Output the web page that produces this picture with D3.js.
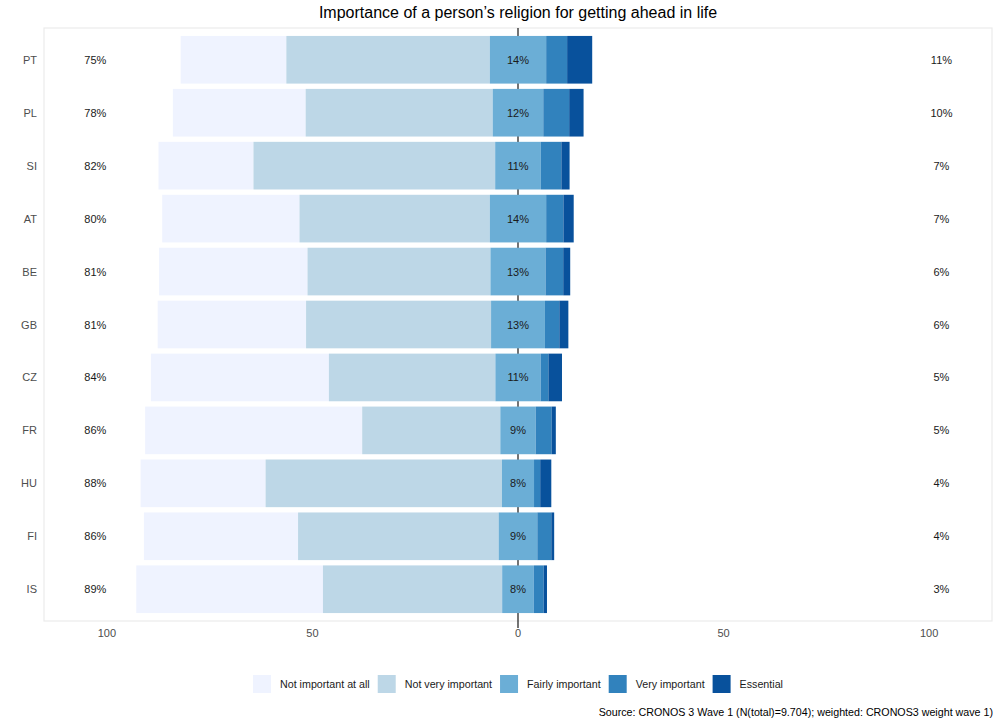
<!DOCTYPE html>
<html lang="en">
<head>
<meta charset="UTF-8">
<title>Importance of a person's religion</title>
<style>
    body { margin: 0; background: #fff; }
    svg { display: block; font-family: "Liberation Sans", Arial, sans-serif; }
</style>
</head>
<body>
<script src="https://d3js.org/d3.v7.min.js"></script>
<script>
    const width = 1000
    const height = 724

    // data (percent)
    const countries = ['PT', 'PL', 'SI', 'AT', 'BE', 'GB', 'CZ', 'FR', 'HU', 'FI', 'IS']
    const levels = ['Not important at all', 'Not very important', 'Fairly important', 'Very important', 'Essential']
    const notAtAll = [25.7, 32.3, 23.1, 33.4, 36.1, 36.1, 43.3, 52.8, 30.4, 37.5, 45.4]
    const notVery = [49.5, 45.5, 58.8, 46.3, 44.5, 45.0, 40.5, 33.6, 57.5, 48.8, 43.6]
    const fairly = [13.7, 12.3, 11.1, 13.7, 13.4, 13.1, 11.0, 8.6, 7.8, 9.4, 7.7]
    const very = [5.1, 6.3, 5.0, 4.2, 4.3, 3.5, 1.9, 3.9, 1.5, 3.4, 2.4]
    const essential = [6.1, 3.5, 2.0, 2.5, 1.7, 2.2, 3.3, 1.0, 2.7, 0.7, 0.8]
    const xTicks = [-100, -50, 0, 50, 100]

    const colors = ['#eff3ff', '#bdd7e7', '#6baed6', '#3182bd', '#08519c']

    const panel = { left: 44, right: 992, top: 28, bottom: 621 }

    const x = d3.scaleLinear().domain([-115.3, 115.3]).range([panel.left, panel.right])
    const y = d3.scaleBand().domain(countries)
        .range([panel.top, panel.bottom])
        .paddingInner(0.1)
        .paddingOuter(0.15)

    const svg = d3.select('body').append('svg')
        .attr('width', width)
        .attr('height', height)

    // panel border
    svg.append('rect')
        .attr('x', panel.left).attr('y', panel.top)
        .attr('width', panel.right - panel.left)
        .attr('height', panel.bottom - panel.top)
        .attr('fill', 'none')
        .attr('stroke', '#ebebeb')
        .attr('stroke-width', 1.2)

    // zero line (behind bars)
    svg.append('line')
        .attr('x1', x(0)).attr('x2', x(0))
        .attr('y1', panel.top).attr('y2', panel.bottom + 7)
        .attr('stroke', '#000')
        .attr('stroke-width', 1.1)

    // segments: start left of zero with half of the middle category
    const series = [notAtAll, notVery, fairly, very, essential]
    const rows = countries.map((c, i) => {
        let start = -(notAtAll[i] + notVery[i] + fairly[i] / 2)
        return series.map((s, k) => {
            const seg = { country: c, k, x0: start, x1: start + s[i] }
            start += s[i]
            return seg
        })
    })

    svg.append('g')
        .selectAll('g')
        .data(rows)
        .join('g')
        .selectAll('rect')
        .data(d => d)
        .join('rect')
        .attr('x', d => x(d.x0))
        .attr('width', d => x(d.x1) - x(d.x0))
        .attr('y', d => y(d.country))
        .attr('height', y.bandwidth())
        .attr('fill', d => colors[d.k])

    const labelStyle = sel => sel
        .attr('font-size', 11)
        .attr('fill', '#1a1a1a')
        .attr('text-anchor', 'middle')
        .attr('dominant-baseline', 'central')

    const cy = c => y(c) + y.bandwidth() / 2

    // left / middle / right percent labels
    svg.append('g').selectAll('text')
        .data(countries)
        .join('text')
        .call(labelStyle)
        .attr('x', x(-102.8))
        .attr('y', cy)
        .text((c, i) => Math.round(notAtAll[i] + notVery[i]) + '%')

    svg.append('g').selectAll('text')
        .data(countries)
        .join('text')
        .call(labelStyle)
        .attr('x', x(0))
        .attr('y', cy)
        .text((c, i) => Math.round(fairly[i]) + '%')

    svg.append('g').selectAll('text')
        .data(countries)
        .join('text')
        .call(labelStyle)
        .attr('x', x(103))
        .attr('y', cy)
        .text((c, i) => Math.round(very[i] + essential[i]) + '%')

    // country axis
    svg.append('g').selectAll('text')
        .data(countries)
        .join('text')
        .attr('x', panel.left - 7)
        .attr('y', cy)
        .attr('text-anchor', 'end')
        .attr('dominant-baseline', 'central')
        .attr('font-size', 11)
        .attr('fill', '#4d4d4d')
        .text(d => d)

    // x axis labels
    svg.append('g').selectAll('text')
        .data(xTicks)
        .join('text')
        .attr('x', d => x(d))
        .attr('y', panel.bottom + 12)
        .attr('text-anchor', 'middle')
        .attr('dominant-baseline', 'central')
        .attr('font-size', 11)
        .attr('fill', '#4d4d4d')
        .text(d => Math.abs(d))

    // title
    svg.append('text')
        .attr('x', x(0))
        .attr('y', 18)
        .attr('text-anchor', 'middle')
        .attr('font-size', 16)
        .attr('fill', '#000')
        .text('Importance of a person’s religion for getting ahead in life')

    // legend
    const legend = svg.append('g')
    let lx = 0
    levels.forEach((name, i) => {
        const g = legend.append('g').attr('transform', `translate(${lx},0)`)
        g.append('rect')
            .attr('width', 18).attr('height', 18)
            .attr('y', 675)
            .attr('fill', colors[i])
        const t = g.append('text')
            .attr('x', 27)
            .attr('y', 684)
            .attr('dominant-baseline', 'central')
            .attr('font-size', 10.7)
            .attr('fill', '#1a1a1a')
            .text(name)
        lx += 27 + t.node().getComputedTextLength() + 8
    })
    const legendW = lx - 8
    legend.attr('transform', `translate(${x(0) - legendW / 2},0)`)

    // caption
    svg.append('text')
        .attr('x', 993)
        .attr('y', 716)
        .attr('text-anchor', 'end')
        .attr('font-size', 10.7)
        .attr('fill', '#000')
        .text('Source: CRONOS 3 Wave 1 (N(total)=9.704); weighted: CRONOS3 weight wave 1)')
</script>
</body>
</html>
